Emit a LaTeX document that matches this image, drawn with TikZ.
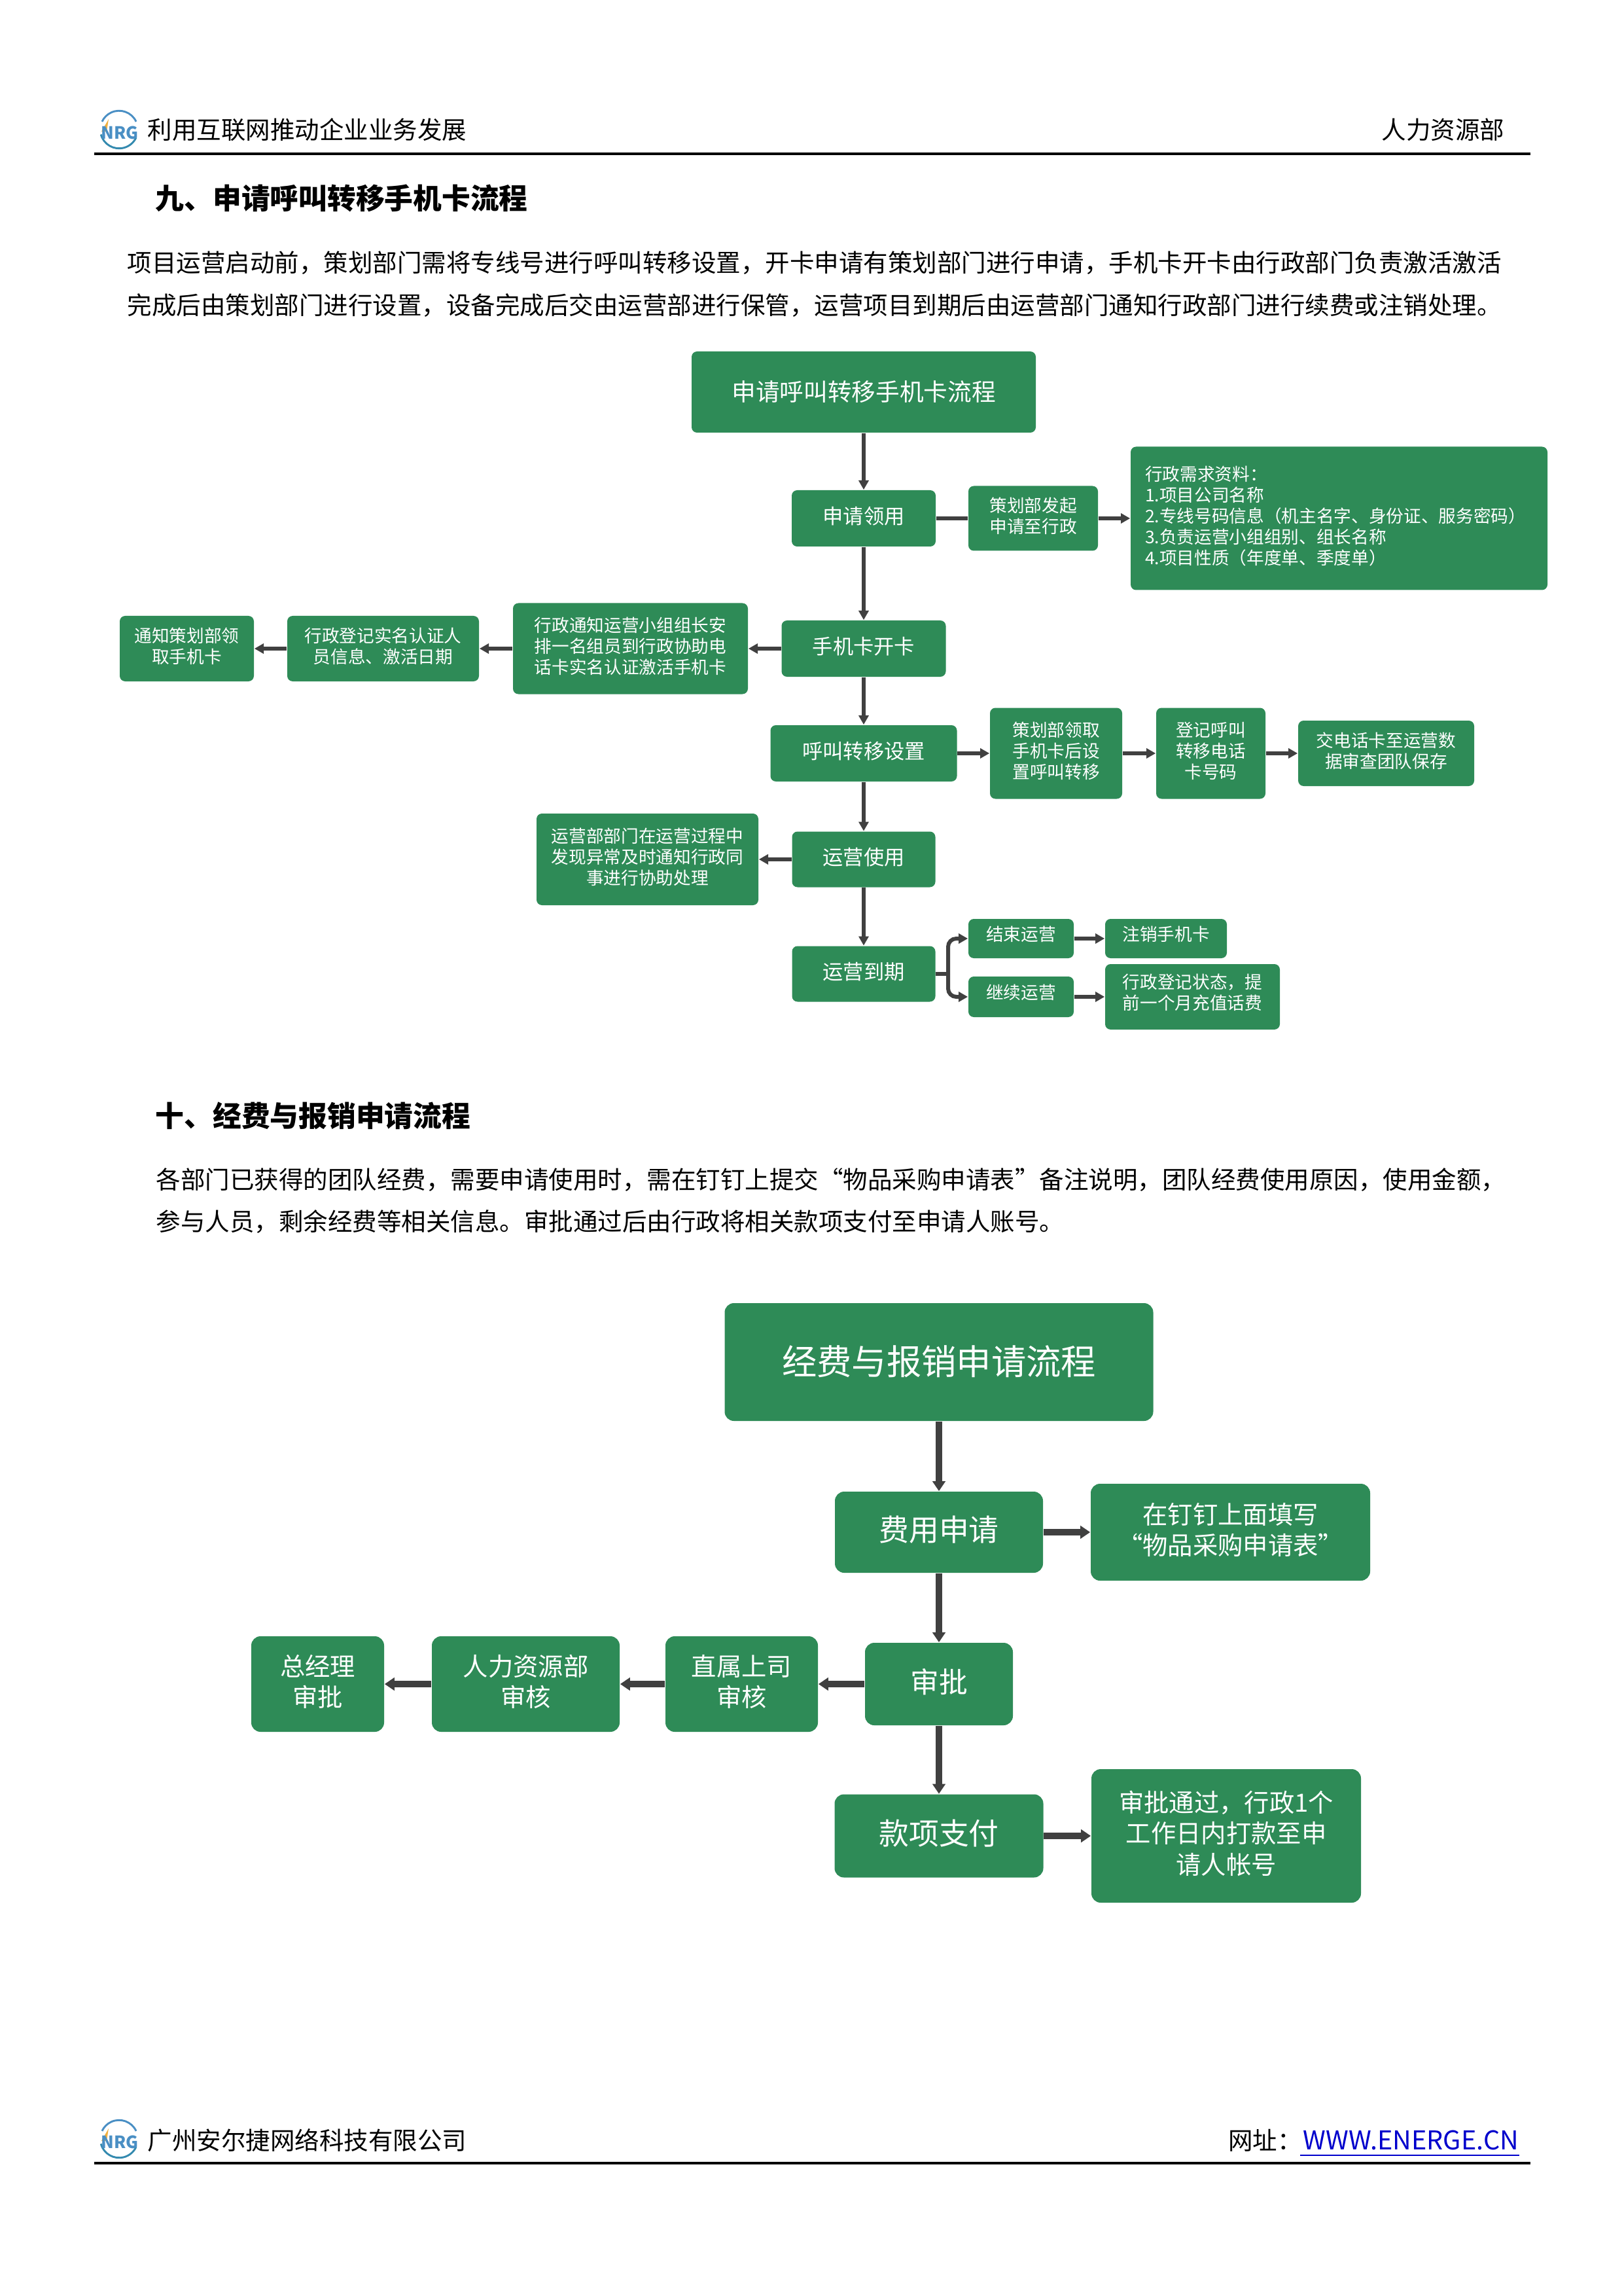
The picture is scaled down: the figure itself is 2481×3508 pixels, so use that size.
\documentclass[tikz,border=0pt]{standalone}
\usepackage{fontspec}
\setmainfont{Noto Sans CJK SC}
\usetikzlibrary{arrows.meta}
\definecolor{boxgreen}{HTML}{2E8B57}
\definecolor{linegray}{HTML}{404040}
\definecolor{logoblue}{HTML}{4A8FC4}
\definecolor{logoorange}{HTML}{F0B040}
\definecolor{linkblue}{HTML}{0000CC}

\begin{document}
\begin{tikzpicture}[x=0.24pt, y=-0.24pt,
	boxsize/.style 2 args={minimum width=#1*0.24pt, minimum height=#2*0.24pt},
	textup/.style={text depth={\dp\pgfnodeparttextbox+#1}},
	flowbox/.style={fill=boxgreen, text=white, rounded corners=2pt, inner sep=0pt, align=center, textup=1.8pt, font=\fontsize{6.4}{7.7}\selectfont},
	midbox/.style={flowbox, font=\fontsize{7.5}{9}\selectfont},
	bigbox/.style={flowbox, rounded corners=3.4pt, font=\fontsize{9.2}{11.4}\selectfont},
	largebox/.style={bigbox, font=\fontsize{11}{13}\selectfont},
	pagetext/.style={anchor=west, inner sep=0pt, font=\fontsize{9}{11}\selectfont},
	headtext/.style={anchor=west, inner sep=0pt, font=\fontsize{10.5}{12}\selectfont\bfseries},
	flowline/.style={draw=linegray, line width=1.44pt, >={Triangle[length=3.4pt,width=3.6pt]}},
	bigline/.style={draw=linegray, line width=2.3pt, >={Triangle[length=3.6pt,width=4.6pt]}}]
	\useasboundingbox (0,0) rectangle (2481,3508);
	%logo, top and bottom
	\foreach \ly in {198,3268}{
		\draw[logoblue, line width=0.7pt] ([shift={(25:6.9pt)}]182,\ly) arc [start angle=25, end angle=155, radius=6.9pt];
		\draw[logoblue!70!teal, line width=0.7pt] ([shift={(195:6.9pt)}]182,\ly) arc [start angle=195, end angle=335, radius=6.9pt];
		\fill[logoorange] (166,\ly-16) -- (155,\ly+3) -- (163,\ly+3) -- cycle;
		\node[inner sep=0pt, text=logoblue, font=\fontsize{6.2}{7}\selectfont\bfseries] (logo\ly) at (183,\ly+5) {NRG};
	}
	%header and footer
	\node[pagetext] (headleft) at (225,198) {利用互联网推动企业业务发展};
	\node[pagetext, anchor=east] (headright) at (2300,198) {人力资源部};
	\coordinate (headA) at (144,235);
	\coordinate (headB) at (2339,235);
	\draw[line width=0.75pt] (headA) -- (headB);
	\node[pagetext] (footleft) at (225,3270) {广州安尔捷网络科技有限公司};
	\node[pagetext, anchor=east, font=\fontsize{9.5}{11}\selectfont] (footlink) at (2322,3270) {\textcolor{linkblue}{WWW.ENERGE.CN}};
	\node[pagetext, anchor=east] (footsite) at (footlink.west) {网址：};
	\coordinate (linkA) at (1987,3293);
	\coordinate (linkB) at (2322,3293);
	\draw[linkblue, line width=0.5pt] (linkA) -- (linkB);
	\coordinate (footA) at (144,3305);
	\coordinate (footB) at (2339,3305);
	\draw[line width=0.75pt] (footA) -- (footB);
	%section nine text
	\node[headtext] (headnine) at (237,303) {九、申请呼叫转移手机卡流程};
	\node[pagetext] (bodynineA) at (194,402) {项目运营启动前，策划部门需将专线号进行呼叫转移设置，开卡申请有策划部门进行申请，手机卡开卡由行政部门负责激活激活};
	\node[pagetext] (bodynineB) at (194,467) {完成后由策划部门进行设置，设备完成后交由运营部进行保管，运营项目到期后由运营部门通知行政部门进行续费或注销处理。};
	%section nine boxes
	\node[flowbox, boxsize={526}{124}, textup=0pt, font=\fontsize{8.8}{10}\selectfont] (cardtitle) at (1320,599) {申请呼叫转移手机卡流程};
	\node[midbox, boxsize={220}{86}] (apply) at (1320,792) {申请领用};
	\node[flowbox, boxsize={198}{99}] (plan) at (1579,792) {策划部发起\\申请至行政};
	\node[flowbox, boxsize={637}{219}, text width=593*0.24pt, align=left] (needs) at (2046.5,792) {行政需求资料：\\1.项目公司名称\\2.专线号码信息（机主名字、身份证、服务密码）\\3.负责运营小组组别、组长名称\\4.项目性质（年度单、季度单）};
	\node[midbox, boxsize={251}{86}] (open) at (1320,991) {手机卡开卡};
	\node[flowbox, boxsize={359}{139}] (realname) at (963.5,991) {行政通知运营小组组长安\\排一名组员到行政协助电\\话卡实名认证激活手机卡};
	\node[flowbox, boxsize={293}{100}] (register) at (585.5,991) {行政登记实名认证人\\员信息、激活日期};
	\node[flowbox, boxsize={205}{100}] (notify) at (285.5,991) {通知策划部领\\取手机卡};
	\node[midbox, boxsize={285}{86}] (forward) at (1320,1151) {呼叫转移设置};
	\node[flowbox, boxsize={202}{139}] (collect) at (1614,1151) {策划部领取\\手机卡后设\\置呼叫转移};
	\node[flowbox, boxsize={167}{139}] (record) at (1850.5,1151) {登记呼叫\\转移电话\\卡号码};
	\node[flowbox, boxsize={269}{100}] (handover) at (2118.5,1151) {交电话卡至运营数\\据审查团队保存};
	\node[midbox, boxsize={219}{85}] (use) at (1320,1313) {运营使用};
	\node[flowbox, boxsize={339}{140}] (issue) at (989.5,1313) {运营部部门在运营过程中\\发现异常及时通知行政同\\事进行协助处理};
	\node[midbox, boxsize={219}{85}] (expire) at (1320,1488) {运营到期};
	\node[flowbox, boxsize={161}{60}, textup=3.2pt] (ending) at (1560.5,1434) {结束运营};
	\node[flowbox, boxsize={186}{60}, textup=3.2pt] (cancel) at (1782,1434) {注销手机卡};
	\node[flowbox, boxsize={161}{62}, textup=3.2pt] (renew) at (1560.5,1523) {继续运营};
	\node[flowbox, boxsize={267}{100}, textup=3.2pt] (recharge) at (1822.5,1523) {行政登记状态，提\\前一个月充值话费};
	%section nine arrows
	\draw[flowline, ->] (cardtitle) -- (apply);
	\draw[flowline, ->] (apply) -- (open);
	\draw[flowline, ->] (open) -- (forward);
	\draw[flowline, ->] (forward) -- (use);
	\draw[flowline, ->] (use) -- (expire);
	\draw[flowline] (apply) -- (plan);
	\draw[flowline, ->] (plan) -- (needs);
	\draw[flowline, ->] (open) -- (realname);
	\draw[flowline, ->] (realname) -- (register);
	\draw[flowline, ->] (register) -- (notify);
	\draw[flowline, ->] (forward) -- (collect);
	\draw[flowline, ->] (collect) -- (record);
	\draw[flowline, ->] (record) -- (handover);
	\draw[flowline, ->] (use) -- (issue);
	\coordinate (fork) at (1449,1488);
	\draw[flowline] (expire) -- (fork);
	\draw[flowline, ->, rounded corners=3pt] (fork) |- (ending);
	\draw[flowline, ->, rounded corners=3pt] (fork) |- (renew);
	\draw[flowline, ->] (ending) -- (cancel);
	\draw[flowline, ->] (renew) -- (recharge);
	%section ten text
	\node[headtext] (headten) at (237,1705) {十、经费与报销申请流程};
	\node[pagetext] (bodytenA) at (238,1803) {各部门已获得的团队经费，需要申请使用时，需在钉钉上提交“物品采购申请表”备注说明，团队经费使用原因，使用金额，};
	\node[pagetext] (bodytenB) at (238,1867) {参与人员，剩余经费等相关信息。审批通过后由行政将相关款项支付至申请人账号。};
	%section ten boxes
	\node[bigbox, boxsize={655}{180}, textup=0.5pt, font=\fontsize{12.8}{15}\selectfont] (feetitle) at (1435,2081) {经费与报销申请流程};
	\node[largebox, boxsize={318}{124}] (fee) at (1435,2341) {费用申请};
	\node[bigbox, boxsize={427}{148}] (dingtalk) at (1880.5,2341) {在钉钉上面填写\\“物品采购申请表”};
	\node[largebox, boxsize={226}{126}, font=\fontsize{10.5}{13}\selectfont] (approve) at (1435,2573) {审批};
	\node[bigbox, boxsize={233}{146}] (leader) at (1133.5,2573) {直属上司\\审核};
	\node[bigbox, boxsize={287}{146}] (hrdept) at (803.5,2573) {人力资源部\\审核};
	\node[bigbox, boxsize={203}{146}] (manager) at (485.5,2573) {总经理\\审批};
	\node[largebox, boxsize={319}{127}] (pay) at (1435,2805) {款项支付};
	\node[bigbox, boxsize={412}{204}] (result) at (1874,2805) {审批通过，行政1个\\工作日内打款至申\\请人帐号};
	%section ten arrows
	\draw[bigline, ->] (feetitle) -- (fee);
	\draw[bigline, ->] (fee) -- (approve);
	\draw[bigline, ->] (approve) -- (pay);
	\draw[bigline, ->] (fee) -- (dingtalk);
	\draw[bigline, ->] (approve) -- (leader);
	\draw[bigline, ->] (leader) -- (hrdept);
	\draw[bigline, ->] (hrdept) -- (manager);
	\draw[bigline, ->] (pay) -- (result);
\end{tikzpicture}
\end{document}
